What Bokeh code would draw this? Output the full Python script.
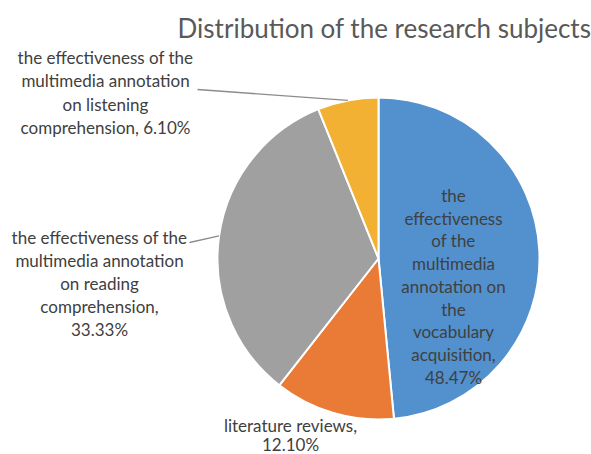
import math
from bokeh.plotting import figure
from bokeh.models import Range1d, ColumnDataSource
from bokeh.core.properties import value
from bokeh.embed import file_html
from bokeh.resources import INLINE

# ---- data ----
categories = [
    "the effectiveness of the multimedia annotation on the vocabulary acquisition",
    "literature reviews",
    "the effectiveness of the multimedia annotation on reading comprehension",
    "the effectiveness of the multimedia annotation on listening comprehension",
]
shares = [48.47, 12.10, 33.33, 6.10]
colors = ["#5291cd", "#e97b36", "#a0a0a0", "#f2b133"]
title_text = "Distribution of the research subjects"

# label line-breaking (layout only)
label_lines = [
    ["the", "effectiveness", "of the", "multimedia", "annotation on", "the",
     "vocabulary", "acquisition,", "48.47%"],
    ["literature reviews,", "12.10%"],
    ["the effectiveness of the", "multimedia annotation", "on reading",
     "comprehension,", "33.33%"],
    ["the effectiveness of the", "multimedia annotation", "on listening",
     "comprehension, 6.10%"],
]

W, H = 591, 454


def Y(img_y):
    return H - img_y


# label anchor (x center, image-y of first line, line spacing)
label_pos = [(453, 195, 22.7), (290, 425, 19.0), (99, 237, 23.0), (105, 57, 23.3)]
# leader line start points in image coords (None = no leader)
leaders = [None, None, (189, 242), (197, 89)]

p = figure(width=W, height=H, output_backend="svg", toolbar_location=None,
           x_range=Range1d(0, W), y_range=Range1d(0, H), min_border=0)
p.axis.visible = False
p.grid.visible = False
p.outline_line_color = None
p.background_fill_color = "white"

cx, cy, r = 378, Y(258), 161
total = sum(shares)
starts, ends, mids = [], [], []
a = math.pi / 2
for s in shares:
    b = a - 2 * math.pi * s / total
    starts.append(a)
    ends.append(b)
    mids.append((a + b) / 2)
    a = b

src = ColumnDataSource(dict(start=starts, end=ends, color=colors))
p.wedge(x=cx, y=cy, radius=r, start_angle="start", end_angle="end",
        direction="clock", fill_color="color", line_color="white",
        line_width=2, source=src)

# leader lines
for i, ld in enumerate(leaders):
    if ld is None:
        continue
    ex = cx + r * math.cos(mids[i])
    ey = cy + r * math.sin(mids[i])
    p.line([ld[0], ex], [Y(ld[1]), ey], line_color="#8c8c8c", line_width=1.3)

# labels
for i, lines in enumerate(label_lines):
    x0, y0, dy = label_pos[i]
    xs = [x0] * len(lines)
    ys = [Y(y0 + k * dy) for k in range(len(lines))]
    p.text(x=xs, y=ys, text=lines, text_align="center", text_baseline="middle",
           text_font=value("Lato"), text_font_size="17px", text_color="#404040")

p.text(x=[384], y=[Y(27)], text=[title_text], text_align="center",
       text_baseline="middle", text_font=value("Lato"), text_font_size="26px",
       text_color="#595959")

open("out.html", "w").write(file_html(p, INLINE))
